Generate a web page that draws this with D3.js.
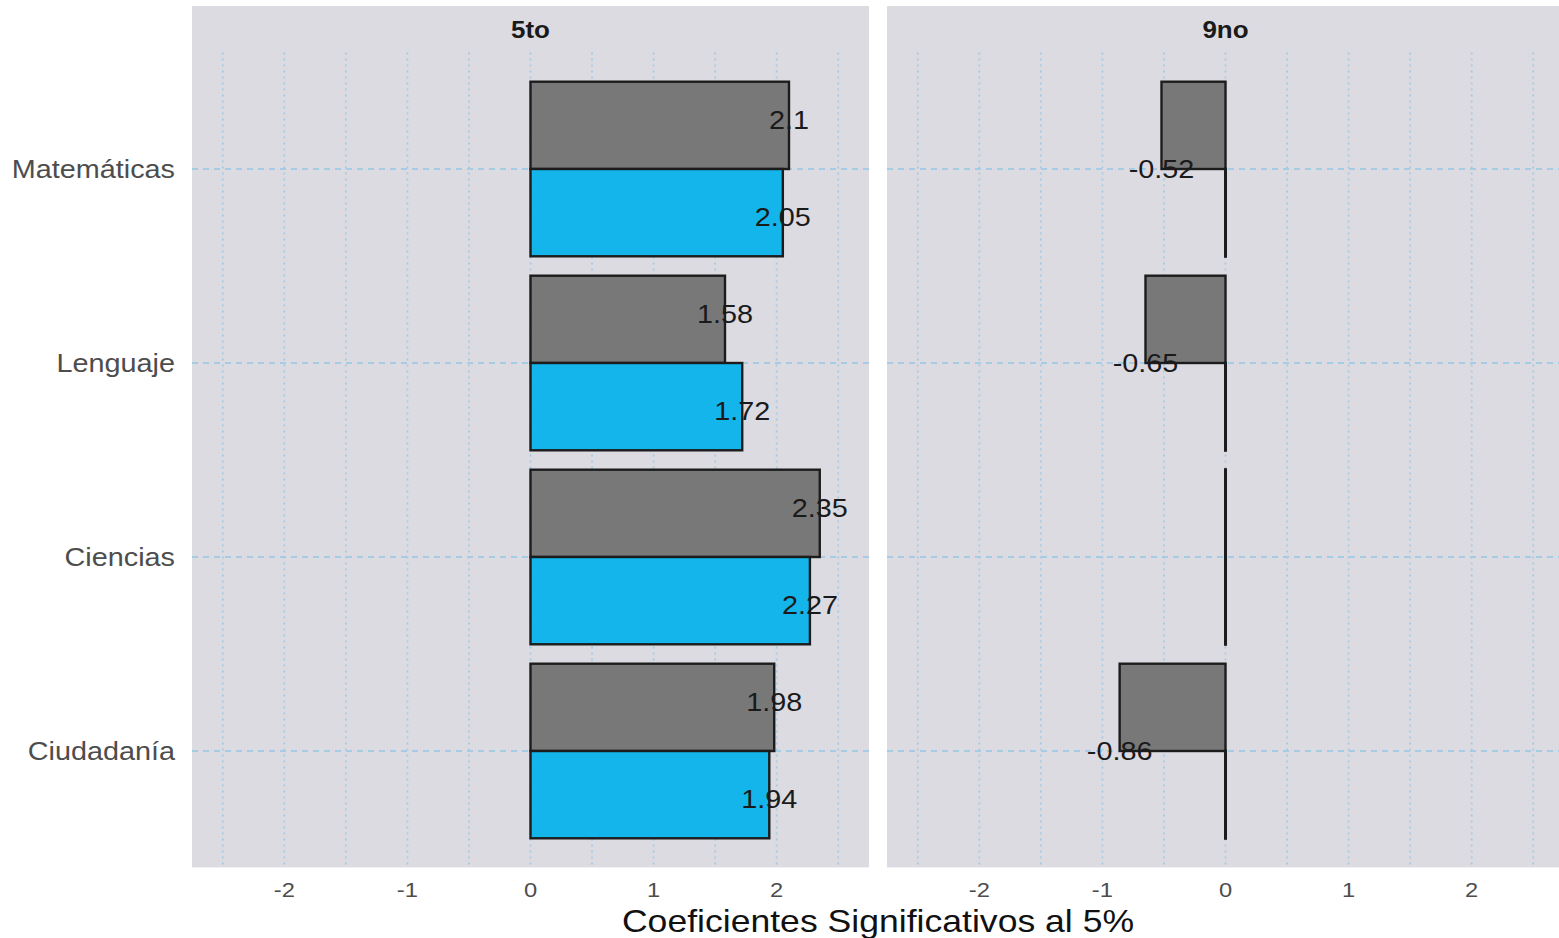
<!DOCTYPE html>
<html>
<head>
<meta charset="utf-8">
<script src="https://cdn.jsdelivr.net/npm/d3@7"></script>
<style>
  html, body { margin: 0; padding: 0; background: #ffffff; }
  svg { display: block; }
  text { font-family: "Liberation Sans", Arial, sans-serif; }
</style>
</head>
<body>
<svg id="chart" width="1559" height="938"></svg>
<script>
// ---- data ----
const categories = ["Matemáticas", "Lenguaje", "Ciencias", "Ciudadanía"];
const panels = ["5to", "9no"];
const grayValues5to = [2.1, 1.58, 2.35, 1.98];
const blueValues5to = [2.05, 1.72, 2.27, 1.94];
const grayValues9no = [-0.52, -0.65, 0, -0.86];
const blueValues9no = [0, 0, 0, 0];
const xTicks = [-2, -1, 0, 1, 2];
const xMinorTicks = [-2.5, -1.5, -0.5, 0.5, 1.5, 2.5];
const xTitle = "Coeficientes Significativos al 5%";

const panelValues = {
  "5to": { gray: grayValues5to, blue: blueValues5to },
  "9no": { gray: grayValues9no, blue: blueValues9no }
};

// ---- layout ----
const svg = d3.select("#chart");
const SX = 1.13; // horizontal stretch of the reference text
const panelTop = 6, stripH = 46.6, panelBottom = 867.4;
const plotTop = panelTop + stripH;
const panelWidth = 677;
const panelLefts = [192, 887];
const bgColor = "#dcdbe1";
const gridColor = "#a6cbe4";
const grayFill = "#787878";
const blueFill = "#13b5ea";

const y = d3.scalePoint().domain(categories).range([plotTop, panelBottom]).padding(0.6);
const step = y.step();

function addText(g, x, yy, str, opts) {
  const t = g.append("text")
    .attr("transform", `translate(${x},${yy}) scale(${SX},1)`)
    .attr("text-anchor", opts.anchor || "middle")
    .attr("dominant-baseline", "central")
    .attr("font-size", opts.size)
    .attr("fill", opts.fill || "#000")
    .text(str);
  if (opts.weight) t.attr("font-weight", opts.weight);
  return t;
}

svg.append("defs").append("clipPath").attr("id", "clipAll")
  .append("rect").attr("x", 0).attr("y", 0).attr("width", 1559).attr("height", 938);

panels.forEach((p, pi) => {
  const left = panelLefts[pi];
  const x = d3.scaleLinear().domain([-2.75, 2.75]).range([left, left + panelWidth]);
  const g = svg.append("g").attr("clip-path", "url(#clipAll)");

  // background (strip + panel)
  g.append("rect").attr("x", left).attr("y", panelTop)
    .attr("width", panelWidth).attr("height", panelBottom - panelTop)
    .attr("fill", bgColor);

  // strip title
  addText(g, left + panelWidth / 2, panelTop + 24, p,
    { size: 23, weight: "bold", fill: "#1a1a1a" });

  // vertical grid (major + minor)
  g.selectAll(".vgrid").data(xTicks.concat(xMinorTicks)).join("line")
    .attr("x1", d => x(d)).attr("x2", d => x(d))
    .attr("y1", plotTop).attr("y2", panelBottom)
    .attr("stroke", gridColor).attr("stroke-width", 1.8)
    .attr("stroke-dasharray", "2,4");

  // horizontal grid
  g.selectAll(".hgrid").data(categories).join("line")
    .attr("x1", left).attr("x2", left + panelWidth)
    .attr("y1", d => y(d)).attr("y2", d => y(d))
    .attr("stroke", gridColor).attr("stroke-width", 1.8)
    .attr("stroke-dasharray", "6,5");

  // bars
  const vals = panelValues[p];
  const bars = [];
  categories.forEach((c, i) => {
    bars.push({ cat: c, v: vals.gray[i], fill: grayFill, pos: -1 });
    bars.push({ cat: c, v: vals.blue[i], fill: blueFill, pos: 1 });
  });
  const bw = step * 0.45;
  g.selectAll(".bar").data(bars).join("rect")
    .attr("x", d => Math.min(x(0), x(d.v)))
    .attr("width", d => Math.max(Math.abs(x(d.v) - x(0)), 0.01))
    .attr("y", d => d.pos < 0 ? y(d.cat) - bw : y(d.cat))
    .attr("height", bw)
    .attr("fill", d => d.fill)
    .attr("stroke", "#1c1c1c")
    .attr("stroke-width", d => d.v === 0 ? 3 : 2.4);

  // labels (only non-zero values, dodged by 1 unit width)
  categories.forEach((c, i) => {
    const labs = [];
    if (vals.gray[i] !== 0) labs.push({ v: vals.gray[i], pos: -1 });
    if (vals.blue[i] !== 0) labs.push({ v: vals.blue[i], pos: 1 });
    labs.forEach(l => {
      const yy = labs.length > 1 ? y(c) + l.pos * step * 0.25 : y(c);
      addText(g, x(l.v), yy, String(l.v), { size: 25.5, fill: "#1a1a1a" });
    });
  });

  // x tick labels
  xTicks.forEach(t => {
    addText(g, x(t), 890, String(t), { size: 21, fill: "#4d4d4d" });
  });
});

// y axis labels
categories.forEach(c => {
  addText(svg, 175, y(c), c, { size: 25.5, fill: "#4d4d4d", anchor: "end" });
});

// x axis title centered over both panels
addText(svg, (panelLefts[0] + panelLefts[1] + panelWidth) / 2, 921, xTitle, { size: 31.5, fill: "#111" });
</script>
</body>
</html>
